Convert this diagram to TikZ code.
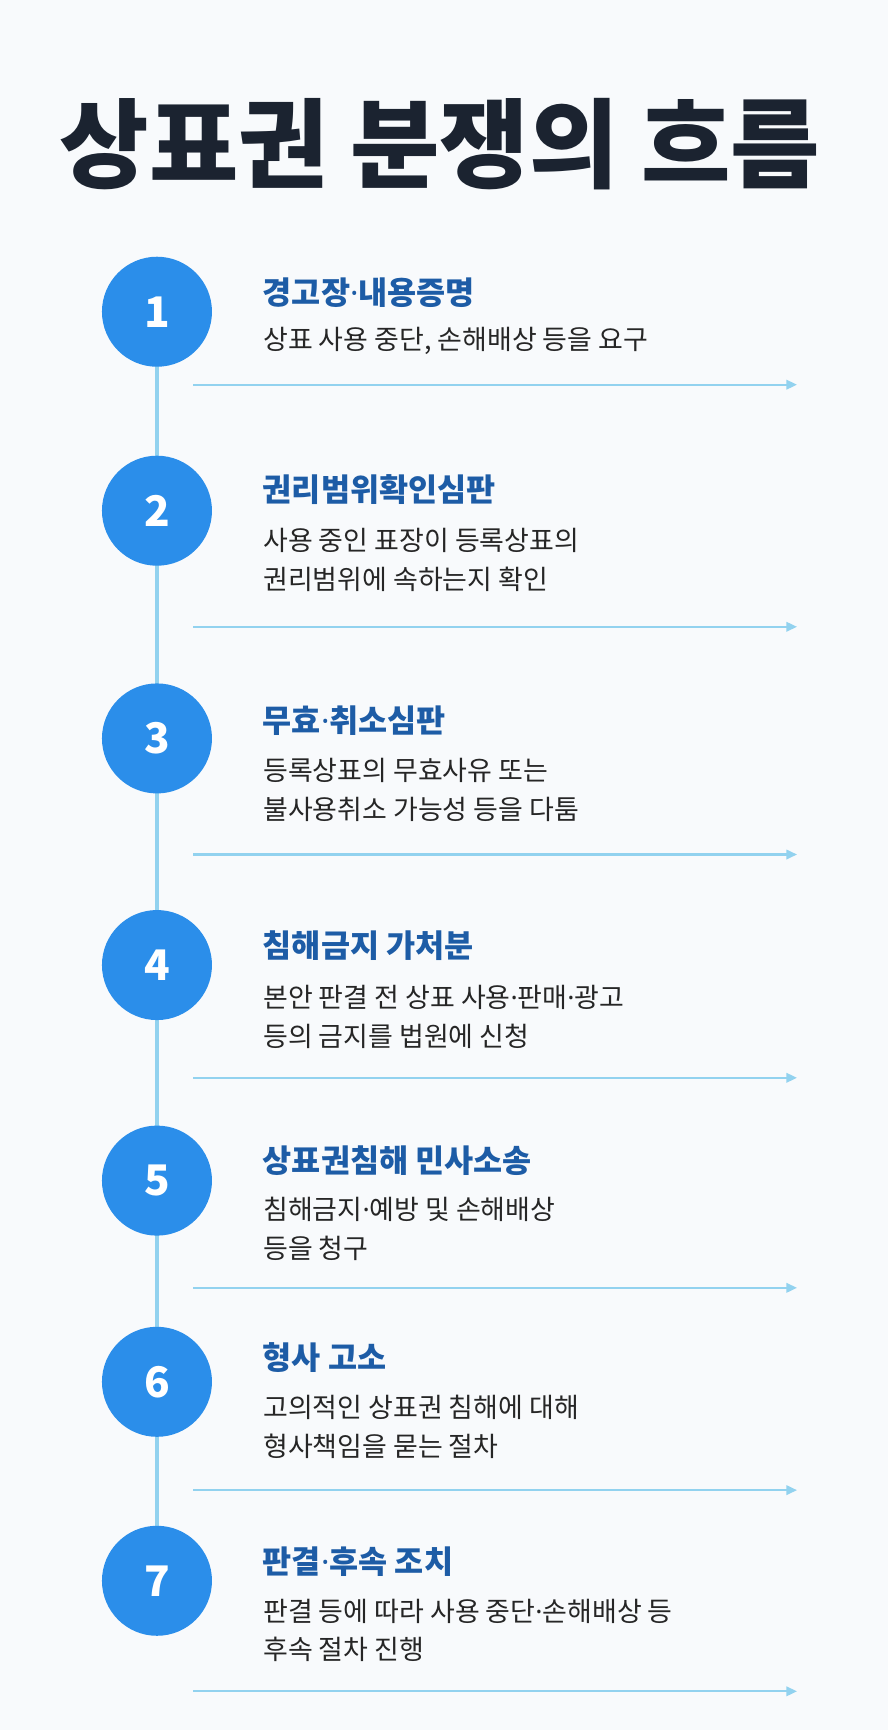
\documentclass[tikz,border=0pt]{standalone}
\usepackage{fontspec}
\setmainfont{Noto Sans CJK KR}
\newfontfamily\latinfont{Noto Sans}
\newcommand{\mdot}{{\latinfont\textperiodcentered}}
\usetikzlibrary{arrows.meta,positioning}
\definecolor{stepblue}{HTML}{2B8EEA}
\definecolor{linkblue}{HTML}{92D2EF}
\definecolor{headblue}{HTML}{1D5CA6}
\definecolor{titlecol}{HTML}{1B2330}
\definecolor{bgcol}{HTML}{F8FAFC}
\tikzset{
  stepcirc/.style={circle,fill=stepblue,minimum size=3.3cm,inner sep=0pt,text=white,font=\fontsize{36}{36}\selectfont\bfseries},
  stephead/.style={anchor=west,text=headblue,font=\fontsize{27}{30}\selectfont\bfseries},
  stepbody/.style={anchor=north west,align=left,inner sep=0pt,text=black!85,font=\fontsize{23}{33}\selectfont},
  steparrow/.style={linkblue,line width=1.8pt,-{Triangle[length=9pt,width=8pt]}}
}
\begin{document}
\begin{tikzpicture}[x=0.03315cm,y=-0.03315cm]
  \fill[bgcol] (0,0) rectangle (803,1565);
  \useasboundingbox (0,0) rectangle (803,1565);

  \node[text=titlecol,font=\fontsize{83}{86}\selectfont\bfseries] (title) at (398,130) {상표권 분쟁의 흐름};

  % steps: y of head / body / arrow
  \foreach \n/\yh/\yb/\ya/\head/\body in {
    1/265/296/348/{경고장\mdot 내용증명}/{상표 사용 중단, 손해배상 등을 요구},
    2/443/478/567/{권리범위확인심판}/{사용 중인 표장이 등록상표의\\권리범위에 속하는지 확인},
    3/652/686/773/{무효\mdot 취소심판}/{등록상표의 무효사유 또는\\불사용취소 가능성 등을 다툼},
    4/855/891/975/{침해금지 가처분}/{본안 판결 전 상표 사용\mdot 판매\mdot 광고\\등의 금지를 법원에 신청},
    5/1050/1083/1165/{상표권침해 민사소송}/{침해금지\mdot 예방 및 손해배상\\등을 청구},
    6/1228/1262/1348/{형사 고소}/{고의적인 상표권 침해에 대해\\형사책임을 묻는 절차},
    7/1413/1446/1530/{판결\mdot 후속 조치}/{판결 등에 따라 사용 중단\mdot 손해배상 등\\후속 절차 진행}}
  {
    \node[stephead] (head\n) at (234,\yh) {\head};
    \node[stepbody] (body\n) at (238,\yb) {\body};
    \coordinate (arrs\n) at (175,\ya);
    \coordinate (arre\n) at (721,\ya);
    \draw[steparrow] (arrs\n) -- (arre\n);
  }
  \draw[linkblue,line width=3.5pt] (142,282) -- (142,1430);
  \foreach \n/\yc in {1/282,2/462,3/668,4/873,5/1068,6/1250,7/1430}
    \node[stepcirc] (step\n) at (142,\yc) {\n};
\end{tikzpicture}
\end{document}
